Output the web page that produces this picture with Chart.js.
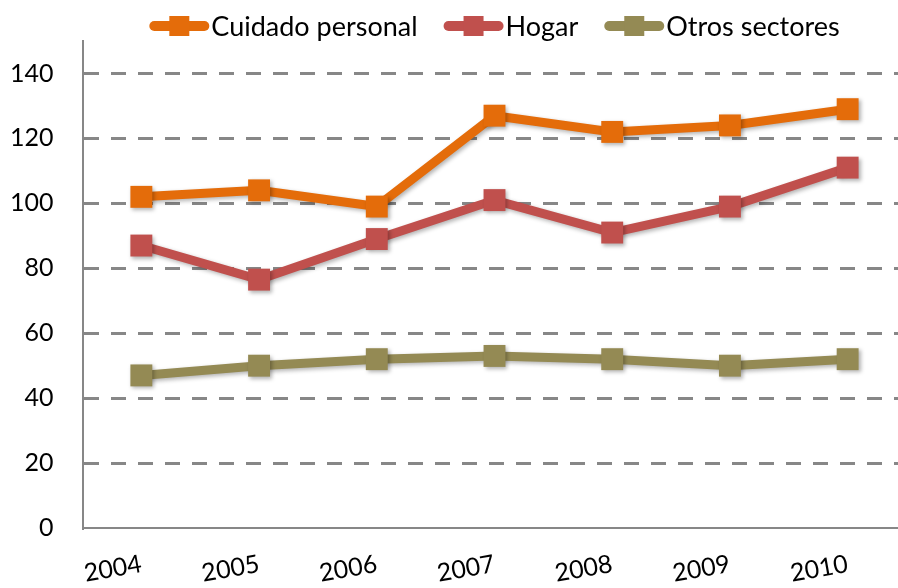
<!DOCTYPE html>
<html><head><meta charset="utf-8">
<script src="https://cdn.jsdelivr.net/npm/chart.js"></script>
<style>
html,body{margin:0;padding:0;overflow:hidden;background:#fff;width:898px;height:588px}
#wrap{position:relative;width:898px;height:588px;overflow:hidden}
#c{position:absolute;left:0;top:0;display:block}
</style>
</head><body><div id="wrap"><canvas id="c" width="922" height="588" style="width:922px;height:588px"></canvas></div>
<script>
const categories = ['2004','2005','2006','2007','2008','2009','2010'];
const cuidadoPersonal = [102, 104, 99, 127, 122, 124, 129];
const hogar = [87, 76.5, 89, 101, 91, 99, 111];
const otrosSectores = [47, 50, 52, 53, 52, 50, 52];
const yTickValues = [0, 20, 40, 60, 80, 100, 120, 140];
const seriesNames = ['Cuidado personal', 'Hogar', 'Otros sectores'];
const seriesColors = ['#E46C0A', '#C0504D', '#948A54'];

const FONT = 'Lato';

const shadowPlugin = {
  id: 'shadow',
  beforeDatasetsDraw(chart) {
    const ctx = chart.ctx;
    ctx.save();
    ctx.shadowColor = 'rgba(0,0,0,0.3)';
    ctx.shadowBlur = 4;
    ctx.shadowOffsetX = 2;
    ctx.shadowOffsetY = 2;
  },
  afterDatasetsDraw(chart) { chart.ctx.restore(); }
};

const lineLegend = {
  id: 'lineLegend',
  afterDraw(chart) {
    const ctx = chart.ctx;
    ctx.save();
    ctx.font = '27px ' + FONT;
    const items = chart.data.datasets.map(ds => ({label: ds.label, color: ds.borderColor, w: ctx.measureText(ds.label).width}));
    const lineW = 60, gapT = 2, gapI = 26;
    const total = items.reduce((s, it) => s + lineW + gapT + it.w, 0) + gapI * (items.length - 1);
    let x = (chart.chartArea.left + chart.chartArea.right) / 2 - total / 2;
    const y = 26;
    items.forEach(it => {
      ctx.strokeStyle = it.color;
      ctx.lineWidth = 10;
      ctx.lineCap = 'round';
      ctx.beginPath();
      ctx.moveTo(x + 5, y);
      ctx.lineTo(x + lineW - 5, y);
      ctx.stroke();
      ctx.fillStyle = it.color;
      ctx.fillRect(x + lineW / 2 - 10, y - 10, 20, 20);
      ctx.fillStyle = '#000';
      ctx.textBaseline = 'middle';
      ctx.textAlign = 'left';
      ctx.fillText(it.label, x + lineW + gapT, y + 1);
      x += lineW + gapT + it.w + gapI;
    });
    ctx.restore();
  }
};

const seriesData = [cuidadoPersonal, hogar, otrosSectores];
const datasets = seriesNames.map((name, i) => ({
  label: name,
  data: seriesData[i],
  borderColor: seriesColors[i],
  backgroundColor: seriesColors[i],
  borderWidth: 9,
  pointStyle: 'rect',
  pointRadius: 15.5,
  pointHoverRadius: 15.5,
  pointBorderWidth: 0,
  pointBackgroundColor: seriesColors[i],
  pointBorderColor: seriesColors[i],
  tension: 0,
  fill: false
}));

new Chart(document.getElementById('c'), {
  type: 'line',
  data: {labels: categories, datasets},
  plugins: [shadowPlugin, lineLegend],
  options: {
    responsive: false,
    devicePixelRatio: 1,
    animation: false,
    layout: {padding: {top: 41, left: 10, right: 0, bottom: 0}},
    plugins: {legend: {display: false}, tooltip: {enabled: false}},
    scales: {
      x: {
        offset: true,
        afterFit: s => { s.paddingLeft = 0; s.paddingRight = 0; s.height = 60; },
        grid: {display: false},
        border: {display: true, color: '#878787', width: 2},
        ticks: {color: '#000', font: {family: FONT, size: 25}, minRotation: 10, maxRotation: 10, padding: 13}
      },
      y: {
        min: 0, max: 150,
        afterBuildTicks: s => { s.ticks = yTickValues.map(v => ({value: v})); },
        afterFit: s => { s.width -= s.options.ticks.padding; s.paddingTop = 0; s.paddingBottom = 0; },
        grid: {
          drawTicks: false,
          lineWidth: 3,
          color: c => (c.tick && c.tick.value === 0) ? 'rgba(0,0,0,0)' : '#878787'
        },
        border: {display: true, color: '#878787', width: 2, dash: [15, 12]},
        ticks: {color: '#000', font: {family: FONT, size: 25}, padding: 29}
      }
    }
  }
});
</script>
</body></html>
